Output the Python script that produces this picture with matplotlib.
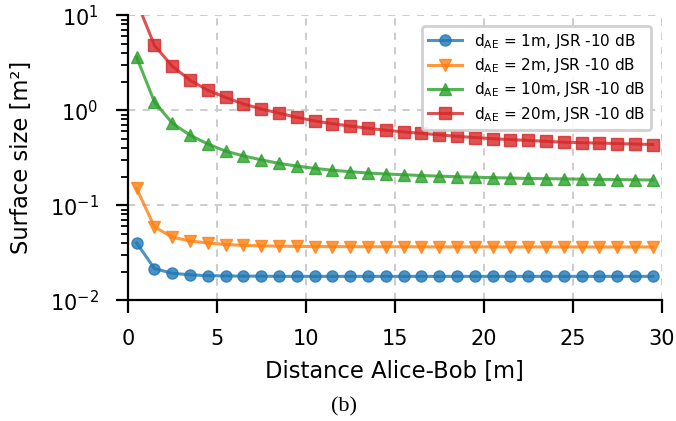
import matplotlib
matplotlib.use("Agg")
import matplotlib.pyplot as plt
import numpy as np

x = [i + 0.5 for i in range(30)]

d1 = [0.040, 0.0215, 0.0192, 0.0185, 0.0181, 0.0180, 0.0179, 0.0179, 0.0178, 0.0178,
      0.0178, 0.0178, 0.0178, 0.0178, 0.0178, 0.0178, 0.0178, 0.0178, 0.0178, 0.0178,
      0.0178, 0.0178, 0.0178, 0.0178, 0.0178, 0.0178, 0.0178, 0.0178, 0.0178, 0.0178]
d2 = [0.150, 0.059, 0.046, 0.042, 0.040, 0.0385, 0.0378, 0.0373, 0.0370, 0.0368,
      0.0367, 0.0366, 0.0366, 0.0365, 0.0365, 0.0365, 0.0364, 0.0364, 0.0364, 0.0364,
      0.0364, 0.0363, 0.0363, 0.0363, 0.0363, 0.0363, 0.0363, 0.0363, 0.0363, 0.0363]
d10 = [3.6, 1.22, 0.73, 0.545, 0.44, 0.37, 0.33, 0.30, 0.275, 0.258,
       0.244, 0.233, 0.225, 0.218, 0.213, 0.209, 0.205, 0.202, 0.199, 0.197,
       0.195, 0.193, 0.191, 0.190, 0.189, 0.188, 0.187, 0.186, 0.185, 0.184]
d20 = [14.0, 4.8, 2.9, 2.07, 1.62, 1.36, 1.16, 1.03, 0.93, 0.84,
       0.77, 0.72, 0.68, 0.645, 0.615, 0.59, 0.57, 0.55, 0.53, 0.515,
       0.50, 0.49, 0.48, 0.47, 0.46, 0.455, 0.45, 0.445, 0.44, 0.435]

labels = [r"d$_{\mathrm{AE}}$ = 1m, JSR -10 dB",
          r"d$_{\mathrm{AE}}$ = 2m, JSR -10 dB",
          r"d$_{\mathrm{AE}}$ = 10m, JSR -10 dB",
          r"d$_{\mathrm{AE}}$ = 20m, JSR -10 dB"]
series = [d1, d2, d10, d20]
colors = ["#1f77b4", "#ff7f0e", "#2ca02c", "#d62728"]
markers = ["o", "v", "^", "s"]

plt.rcParams["font.family"] = ["DejaVu Sans"]
plt.rcParams["mathtext.fontset"] = "dejavusans"

fig = plt.figure(figsize=(6.76, 4.21), dpi=100)
ax = fig.add_axes([0.189, 0.287, 0.790, 0.677])

for ys, lab, c, m in zip(series, labels, colors, markers):
    ax.plot(x, ys, color=c, marker=m, markersize=8, linewidth=2.2, alpha=0.8, label=lab)

ax.set_yscale("log")
ax.set_ylim(1e-2, 1e1)
ax.set_xlim(0, 30)
ax.set_xticks([0, 5, 10, 15, 20, 25, 30])
ax.grid(True, which="major", linestyle=(0, (4, 4)), color="#c8c8c8", linewidth=1.3)
for s in ["top", "right"]:
    ax.spines[s].set_visible(False)
for s in ["left", "bottom"]:
    ax.spines[s].set_linewidth(1.6)
ax.tick_params(axis="both", which="major", labelsize=15, length=9, width=1.6, pad=12)
ax.tick_params(axis="y", which="minor", length=5, width=1.3)
ax.set_xlabel("Distance Alice-Bob [m]", fontsize=16.3, labelpad=8)
ax.set_ylabel("Surface size [m²]", fontsize=16.3, labelpad=12)

leg = ax.legend(loc="upper right", fontsize=11, frameon=True, framealpha=0.9,
                borderpad=0.4, handlelength=2.2, labelspacing=0.35,
                bbox_to_anchor=(0.995, 0.99))
leg.get_frame().set_edgecolor("#cccccc")
leg.get_frame().set_linewidth(2)

fig.text(344 / 676, 1 - 407 / 421, "(b)", ha="center", va="center", fontsize=16,
         family="Liberation Serif")

fig.savefig("out.png", dpi=100)
